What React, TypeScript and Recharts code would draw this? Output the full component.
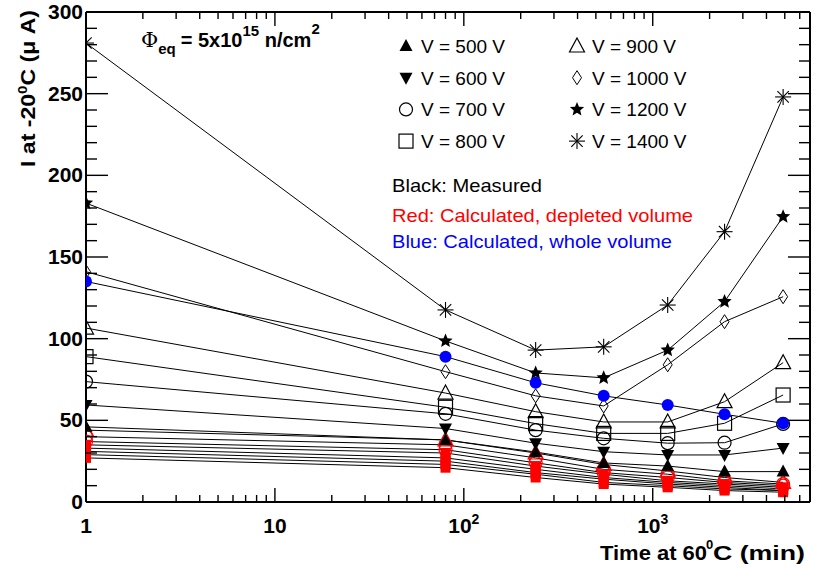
import React from "react";
import { LineChart, Line, XAxis, YAxis, CartesianGrid } from "recharts";

// annealing time at 60C (min)
const TIMES = [1, 80, 240, 550, 1200, 2400, 4900];

// measured current at -20C (uA), one array per bias voltage
const M500 = [46, 38, 30.6, 23.9, 22, 18.6, 18.6];
const M600 = [59.4, 45, 36, 30.8, 28.8, 28.8, 33];
const M700 = [73.7, 54, 44, 39, 36, 36.3, 47.8];
const M800 = [89, 58, 48, 42, 42, 48.2, 65.5];
const M900 = [106.5, 66.7, 55.3, 49, 49, 61.4, 85.3];
const M1000 = [141, 79.8, 65, 58.8, 84, 110.4, 125.7];
const M1200 = [183, 98.6, 79, 76, 93, 122.7, 174.7];
const M1400 = [281, 117.6, 93, 95, 120.6, 165.5, 248];

// calculated, depleted volume (red)
const C500 = [27, 21, 15, 11, 9, 7, 6];
const C600 = [29, 23, 17, 12, 10, 8, 7];
const C700 = [31, 25, 18, 14, 11, 9, 7];
const C800 = [33, 27, 20, 15, 12, 10, 8];
const C900 = [35, 30, 22, 17, 13, 11, 9];
const C1000 = [37, 32, 24, 18, 15, 12, 10];
const C1200 = [40, 35, 27, 20, 17, 13, 11];
const C1400 = [44, 38, 30, 23, 19, 15, 12];

// calculated, whole volume (blue)
const WHOLE = [135, 89, 73, 65, 59.4, 53.7, 48.2];

const X_MAJOR = [1, 10, 100, 1000];
const X_MAJOR_EXP = ["", "", "2", "3"];
const Y_MAJOR = [0, 50, 100, 150, 200, 250, 300];

const W = 819;
const H = 567;
const PLOT_TOP = 12;
const PLOT_LEFT = 86;
const PLOT_RIGHT = 810;
const PLOT_BOTTOM = 502;
const FONT = "'Liberation Sans', Arial, Helvetica, sans-serif";

const X_TICKS: number[] = [];
for (let d = 1; d <= 1000; d *= 10) {
  for (let k = 1; k <= 9; k++) if (d * k <= 6800) X_TICKS.push(d * k);
}
const Y_TICKS: number[] = [];
for (let v = 0; v <= 300; v += 10) Y_TICKS.push(v);

type Shape = "triUp" | "triDown" | "circle" | "square" | "openTri" | "diamond" | "star" | "asterisk" | "dot" | "fsquare";

const SERIES = [
  { key: "c500", values: C500, shape: "fsquare", color: "#ff0000" },
  { key: "c600", values: C600, shape: "fsquare", color: "#ff0000" },
  { key: "c700", values: C700, shape: "fsquare", color: "#ff0000" },
  { key: "c800", values: C800, shape: "fsquare", color: "#ff0000" },
  { key: "c900", values: C900, shape: "fsquare", color: "#ff0000" },
  { key: "c1000", values: C1000, shape: "circle", color: "#ff0000" },
  { key: "c1200", values: C1200, shape: "circle", color: "#ff0000" },
  { key: "c1400", values: C1400, shape: "openTri", color: "#ff0000" },
  { key: "m500", values: M500, shape: "triUp", color: "#000" },
  { key: "m600", values: M600, shape: "triDown", color: "#000" },
  { key: "m700", values: M700, shape: "circle", color: "#000" },
  { key: "m800", values: M800, shape: "square", color: "#000" },
  { key: "m900", values: M900, shape: "openTri", color: "#000" },
  { key: "m1000", values: M1000, shape: "diamond", color: "#000" },
  { key: "m1200", values: M1200, shape: "star", color: "#000" },
  { key: "m1400", values: M1400, shape: "asterisk", color: "#000" },
  { key: "whole", values: WHOLE, shape: "dot", color: "#0000ff" },
] as { key: string; values: number[]; shape: Shape; color: string }[];

const DATA = TIMES.map((t, i) => {
  const row: Record<string, number> = { t };
  SERIES.forEach((s) => (row[s.key] = s.values[i]));
  return row;
});

function starPoints(cx: number, cy: number, ro: number, ri: number) {
  const pts: string[] = [];
  for (let i = 0; i < 10; i++) {
    const r = i % 2 === 0 ? ro : ri;
    const a = -Math.PI / 2 + (i * Math.PI) / 5;
    pts.push(`${cx + r * Math.cos(a)},${cy + r * Math.sin(a)}`);
  }
  return pts.join(" ");
}

function Marker({ shape, cx, cy, color }: { shape: Shape; cx: number; cy: number; color: string }) {
  switch (shape) {
    case "triUp":
      return <polygon points={`${cx},${cy - 7} ${cx + 6.5},${cy + 5} ${cx - 6.5},${cy + 5}`} fill={color} />;
    case "triDown":
      return <polygon points={`${cx},${cy + 7} ${cx + 6.5},${cy - 5} ${cx - 6.5},${cy - 5}`} fill={color} />;
    case "circle":
      return <circle cx={cx} cy={cy} r={6.5} fill="none" stroke={color} strokeWidth={1.2} />;
    case "square":
      return <rect x={cx - 7} y={cy - 7} width={14} height={14} fill="none" stroke={color} strokeWidth={1.2} />;
    case "fsquare":
      return <rect x={cx - 5} y={cy - 5} width={10} height={10} fill={color} />;
    case "openTri":
      return <polygon points={`${cx},${cy - 8} ${cx + 7.5},${cy + 6} ${cx - 7.5},${cy + 6}`} fill="none" stroke={color} strokeWidth={1.2} />;
    case "diamond":
      return <polygon points={`${cx},${cy - 7} ${cx + 4.5},${cy} ${cx},${cy + 7} ${cx - 4.5},${cy}`} fill="none" stroke={color} strokeWidth={1} />;
    case "star":
      return <polygon points={starPoints(cx, cy, 7.5, 3.4)} fill={color} />;
    case "asterisk":
      return (
        <g stroke={color} strokeWidth={1.1}>
          <line x1={cx - 8} y1={cy} x2={cx + 8} y2={cy} />
          <line x1={cx} y1={cy - 8} x2={cx} y2={cy + 8} />
          <line x1={cx - 5.7} y1={cy - 5.7} x2={cx + 5.7} y2={cy + 5.7} />
          <line x1={cx - 5.7} y1={cy + 5.7} x2={cx + 5.7} y2={cy - 5.7} />
        </g>
      );
    case "dot":
      return <circle cx={cx} cy={cy} r={6} fill={color} />;
  }
  return null;
}

const XTick = (props: any) => {
  const { x, y, payload } = props;
  const i = X_MAJOR.indexOf(payload.value);
  const len = i >= 0 ? 14 : 7;
  return (
    <g>
      <line x1={x} y1={y} x2={x} y2={y - len} stroke="#000" strokeWidth={1.4} />
      <line x1={x} y1={PLOT_TOP} x2={x} y2={PLOT_TOP + len} stroke="#000" strokeWidth={1.4} />
      {i >= 0 && (
        <text x={x} y={y + 31} textAnchor="middle" fontFamily={FONT} fontWeight="bold" fontSize={21} fill="#000">
          {X_MAJOR_EXP[i] ? "10" : String(payload.value)}
          {X_MAJOR_EXP[i] && (
            <tspan dy={-9} fontSize={14}>
              {X_MAJOR_EXP[i]}
            </tspan>
          )}
        </text>
      )}
    </g>
  );
};

const YTick = (props: any) => {
  const { x, y, payload } = props;
  const major = Y_MAJOR.includes(payload.value);
  const len = major ? 22 : 11;
  return (
    <g>
      <line x1={x} y1={y} x2={x + len} y2={y} stroke="#000" strokeWidth={1.4} />
      <line x1={PLOT_RIGHT} y1={y} x2={PLOT_RIGHT - len} y2={y} stroke="#000" strokeWidth={1.4} />
      {major && (
        <text x={x - 3} y={y + 7} textAnchor="end" fontFamily={FONT} fontWeight="bold" fontSize={21} fill="#000">
          {payload.value}
        </text>
      )}
    </g>
  );
};

const LEGEND = [
  { label: "V = 500 V", shape: "triUp" },
  { label: "V = 600 V", shape: "triDown" },
  { label: "V = 700 V", shape: "circle" },
  { label: "V = 800 V", shape: "square" },
  { label: "V = 900 V", shape: "openTri" },
  { label: "V = 1000 V", shape: "diamond" },
  { label: "V = 1200 V", shape: "star" },
  { label: "V = 1400 V", shape: "asterisk" },
] as { label: string; shape: Shape }[];

export default function App() {
  return (
    <div style={{ position: "absolute", left: 0, top: 0, width: W, height: H, background: "#fff" }}>
      <LineChart
        width={W}
        height={H}
        data={DATA}
        margin={{ top: PLOT_TOP, right: W - PLOT_RIGHT, bottom: H - PLOT_BOTTOM - 40, left: PLOT_LEFT - 60 }}
      >
        <CartesianGrid
          horizontal
          vertical
          horizontalPoints={[PLOT_TOP]}
          verticalPoints={[PLOT_RIGHT]}
          stroke="#000"
          strokeWidth={2}
          fill="none"
        />
        <XAxis
          dataKey="t"
          type="number"
          scale="log"
          domain={[1, 6800]}
          ticks={X_TICKS}
          interval={0}
          height={40}
          tickSize={0}
          tickMargin={0}
          tick={<XTick />}
          axisLine={{ stroke: "#000", strokeWidth: 2 }}
          allowDataOverflow
        />
        <YAxis
          type="number"
          domain={[0, 300]}
          ticks={Y_TICKS}
          interval={0}
          width={60}
          tickSize={0}
          tickMargin={0}
          tick={<YTick />}
          axisLine={{ stroke: "#000", strokeWidth: 2 }}
          allowDataOverflow
        />
        {SERIES.map((s) => (
          <Line
            key={s.key}
            dataKey={s.key}
            stroke="#000"
            strokeWidth={1}
            isAnimationActive={false}
            activeDot={false}
            dot={(p: any) => <Marker key={`${s.key}-${p.index}`} shape={s.shape} cx={p.cx} cy={p.cy} color={s.color} />}
          />
        ))}
      </LineChart>
      <svg width={W} height={H} style={{ position: "absolute", left: 0, top: 0, pointerEvents: "none" }}>
        <g fontFamily={FONT} fill="#000">
          <text x={141} y={47} fontSize={20} fontWeight="bold">
            <tspan fontFamily="'DejaVu Serif', serif" fontWeight="normal" fontSize={21}>Φ</tspan>
            <tspan dy={7} fontSize={15}>eq</tspan>
            <tspan dy={-7} dx={5}>= 5x10</tspan>
            <tspan dy={-11} fontSize={15}>15</tspan>
            <tspan dy={11}> n/cm</tspan>
            <tspan dy={-13} fontSize={15}>2</tspan>
          </text>

          {LEGEND.map((l, i) => {
            const col = Math.floor(i / 4);
            const row = i % 4;
            const mx = col === 0 ? 406 : 577;
            const y = 53 + row * 31.7;
            return (
              <g key={l.label}>
                <Marker shape={l.shape} cx={mx} cy={y - 7} color="#000" />
                <text x={mx + 15} y={y} fontSize={19}>
                  {l.label}
                </text>
              </g>
            );
          })}
          <text x={392} y={192} fontSize={19} textLength={150} lengthAdjust="spacingAndGlyphs">Black: Measured</text>
          <text x={392} y={222} fontSize={19} fill="#ff0000" textLength={301} lengthAdjust="spacingAndGlyphs">Red: Calculated, depleted volume</text>
          <text x={392} y={248} fontSize={19} fill="#0000ff" textLength={280} lengthAdjust="spacingAndGlyphs">Blue: Calculated, whole volume</text>

          <text x={600} y={560} fontSize={21} fontWeight="bold" textLength={107} lengthAdjust="spacingAndGlyphs">Time at 60</text>
          <text x={706} y={549} fontSize={13} fontWeight="bold">0</text>
          <text x={713} y={560} fontSize={21} fontWeight="bold" textLength={92} lengthAdjust="spacingAndGlyphs">C (min)</text>

          <text transform="translate(35,167) rotate(-90)" fontSize={20} fontWeight="bold" textLength={157} lengthAdjust="spacingAndGlyphs">
            I at -20<tspan dy={-8} fontSize={13}>0</tspan>
            <tspan dy={8}>C (μ A)</tspan>
          </text>
        </g>
      </svg>
    </div>
  );
}
